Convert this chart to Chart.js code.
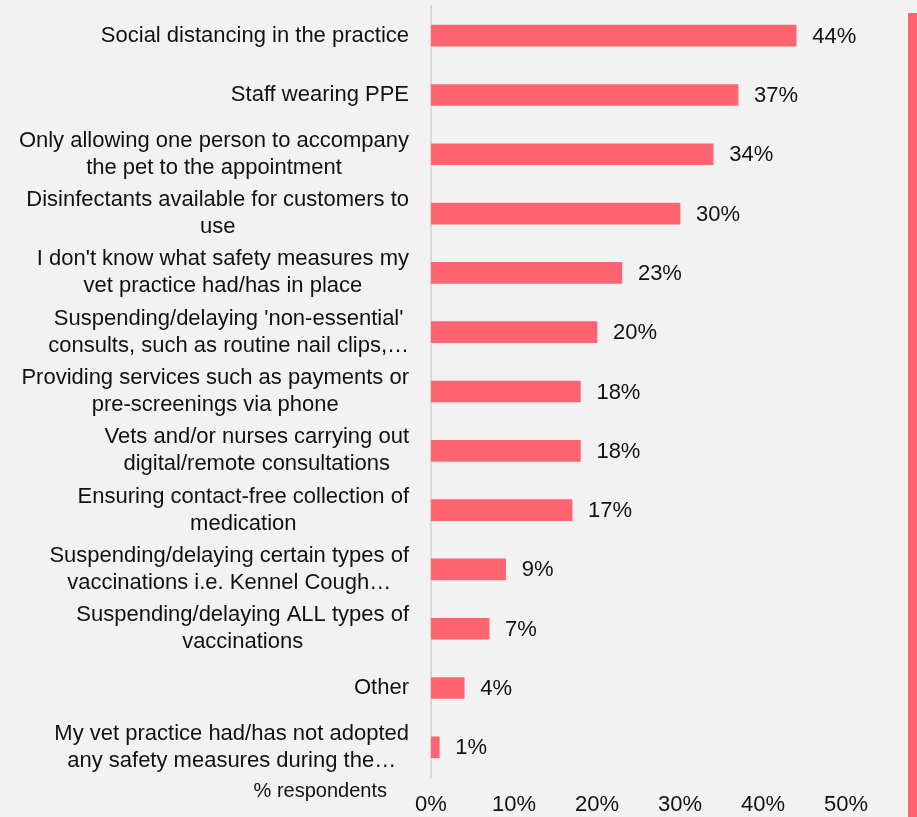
<!DOCTYPE html>
<html>
<head>
<meta charset="utf-8">
<script src="https://cdn.jsdelivr.net/npm/chart.js@4.4.1/dist/chart.umd.min.js"></script>
<style>
  html, body { margin: 0; padding: 0; background: #f2f2f2; }
  #wrap { width: 917px; height: 817px; }
</style>
</head>
<body>
<div id="wrap"><canvas id="measuresChart" width="917" height="817"></canvas></div>
<script>
// Safety measures seen at the vet practice (% respondents)
const measureLabels = [
    'Social distancing in the practice',
    'Staff wearing PPE',
    ['Only allowing one person to accompany', 'the pet to the appointment'],
    ['Disinfectants available for customers to', 'use'],
    ["I don't know what safety measures my", 'vet practice had/has in place'],
    ["Suspending/delaying 'non-essential'", 'consults, such as routine nail clips,…'],
    ['Providing services such as payments or', 'pre-screenings via phone'],
    ['Vets and/or nurses carrying out', 'digital/remote consultations'],
    ['Ensuring contact-free collection of', 'medication'],
    ['Suspending/delaying certain types of', 'vaccinations i.e. Kennel Cough…'],
    ['Suspending/delaying ALL types of', 'vaccinations'],
    'Other',
    ['My vet practice had/has not adopted', 'any safety measures during the…']
];
const measureValues = [44, 37, 34, 30, 23, 20, 18, 18, 17, 9, 7, 4, 1];
const axisTicks = [0, 10, 20, 30, 40, 50];
const axisNote = '% respondents';

const colors = {
    bar: '#ff6470',
    text: '#111111',
    axis: '#d9d9d9',
    bg: '#f2f2f2'
};
const fontFamily = '"Liberation Sans", Arial, sans-serif';

// category labels, value labels, note and the side strip
const annotate = {
    id: 'annotate',
    beforeDraw(chart) {
        const ctx = chart.ctx;
        ctx.save();
        ctx.fillStyle = colors.bg;
        ctx.fillRect(0, 0, chart.width, chart.height);
        ctx.restore();
    },
    afterDatasetsDraw(chart) {
        const ctx = chart.ctx;
        const yScale = chart.scales.y;
        const meta = chart.getDatasetMeta(0);
        ctx.save();
        ctx.fillStyle = colors.text;
        ctx.textBaseline = 'middle';

        // category labels: block right-aligned, lines centred inside it
        ctx.font = '22px ' + fontFamily;
        const rightEdge = chart.chartArea.left - 22;
        const lineH = 27;
        measureLabels.forEach((lab, i) => {
            const lines = Array.isArray(lab) ? lab : [lab];
            const y = yScale.getPixelForTick(i);
            const widest = Math.max(...lines.map(l => ctx.measureText(l).width));
            const cx = rightEdge - widest / 2;
            ctx.textAlign = 'center';
            lines.forEach((l, k) => {
                ctx.fillText(l, cx, y + (k - (lines.length - 1) / 2) * lineH);
            });
        });

        // value labels after each bar
        ctx.textAlign = 'left';
        meta.data.forEach((bar, i) => {
            ctx.fillText(measureValues[i] + '%', bar.x + 16, bar.y + 1);
        });

        // axis note
        ctx.font = '20px ' + fontFamily;
        ctx.textAlign = 'right';
        ctx.fillText(axisNote, 387, 791);

        // strip on the right edge
        ctx.fillStyle = colors.bar;
        ctx.fillRect(908, 13, 9, chart.height - 13);
        ctx.restore();
    }
};

new Chart(document.getElementById('measuresChart'), {
    type: 'bar',
    data: {
        labels: measureLabels,
        datasets: [{
            data: measureValues,
            backgroundColor: colors.bar,
            borderWidth: 0,
            barThickness: 21
        }]
    },
    options: {
        indexAxis: 'y',
        responsive: false,
        animation: false,
        layout: { padding: { left: 431, right: 71, top: 6, bottom: 0 } },
        plugins: {
            legend: { display: false },
            tooltip: { enabled: false }
        },
        scales: {
            x: {
                min: 0,
                max: 50,
                afterBuildTicks(scale) {
                    scale.ticks = axisTicks.map(v => ({ value: v }));
                },
                afterFit(scale) { scale.height = 40; },
                grid: { display: false, drawTicks: false },
                border: { display: false },
                ticks: {
                    padding: 15,
                    color: colors.text,
                    font: { family: fontFamily, size: 22 },
                    callback: v => v + '%'
                }
            },
            y: {
                afterFit(scale) { scale.width = 0; },
                grid: { display: false, drawTicks: false },
                border: { display: true, color: colors.axis, width: 2 },
                ticks: { display: false }
            }
        }
    },
    plugins: [annotate]
});
</script>
</body>
</html>
